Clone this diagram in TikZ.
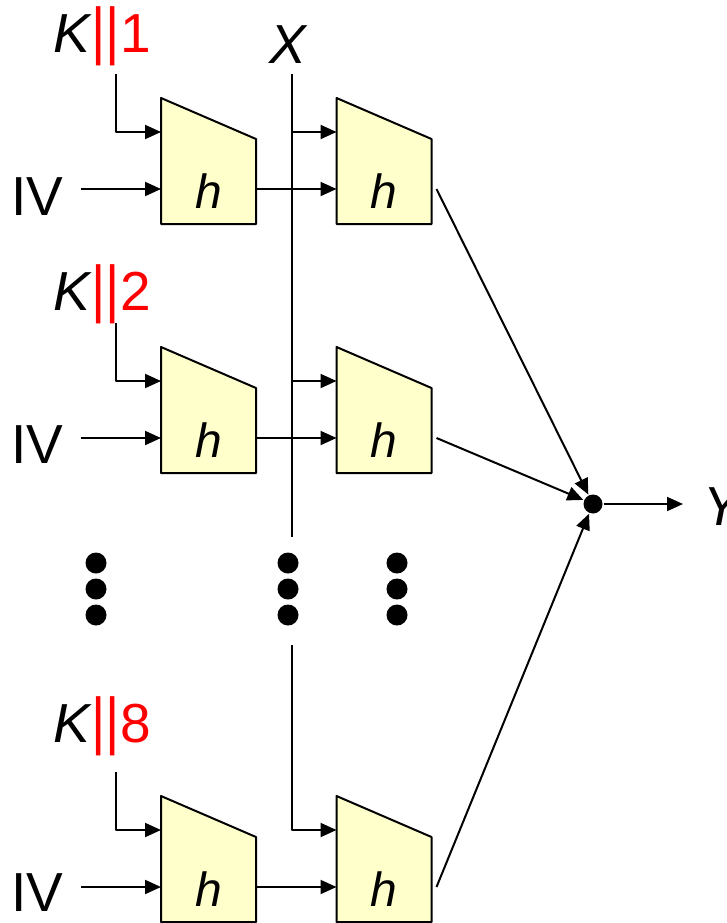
\documentclass[tikz,border=0pt]{standalone}
\usepackage{fontspec}
\setmainfont{Liberation Sans}
\usetikzlibrary{arrows.meta,calc}
\definecolor{hfill}{RGB}{255,255,204}
\begin{document}
\begin{tikzpicture}[x=1pt,y=-1pt,>={Triangle[length=16pt,width=14pt]}, line width=2pt, line join=round,
	hbox/.style={draw=none,inner sep=0pt,minimum width=93pt,minimum height=124pt},
	hlab/.style={font=\fontsize{48}{50}\selectfont\itshape,inner sep=0pt,anchor=base},
	lab/.style={font=\fontsize{55}{60}\selectfont,inner sep=0pt},
	dot/.style={circle,fill,inner sep=0pt,minimum size=#1},
	dot/.default=21pt]
	\useasboundingbox (0,0) rectangle (726,923);
	% rows: number, offset, key index, key baseline, key line start
	\foreach \r/\dy/\n/\kb/\ks in {1/0/1/53/74, 2/249/2/310/323, 3/698/8/742/772} {
		\node[hbox] (A\r) at (208.5,161+\dy) {};
		\node[hbox] (B\r) at (384,161+\dy) {};
		\foreach \bx in {A\r,B\r} {
			\filldraw[fill=hfill] (\bx.north west) -- ([yshift=-41pt]\bx.north east) -- (\bx.south east) -- (\bx.south west) -- cycle;
			\node[hlab] (\bx-h) at ([yshift=-47pt]\bx.center) {h};
			\coordinate (\bx-k) at ([yshift=29pt]\bx.west);
			\coordinate (\bx-i) at ([yshift=-28pt]\bx.west);
		}
		\node[lab,anchor=base west] (K\r) at (52,\kb) {\textit{K}\textcolor{red}{\scalebox{1}[1.15]{||}\n}};
		\coordinate (k\r) at (116,\ks);
		\draw[->] (k\r) |- (A\r-k);
		\node[lab,anchor=base west] (IV\r) at (10,216+\dy-\r) {IV};
		\draw[->] ([xshift=17pt]IV\r.east |- A\r-i) -- (A\r-i);
		\draw[->] (A\r.east |- A\r-i) -- (B\r-i);
		\coordinate (o\r) at ([xshift=5pt]B\r.east |- B\r-i);
	}
	% message line
	\node[lab,anchor=base] (X) at (289,64) {\textit{X}};
	\coordinate (xtop) at (292,74);
	\coordinate (xbot) at (292,537);
	\coordinate (x3) at (292,645);
	\draw (xtop) -- (xbot);
	\draw[->] (xtop |- B1-k) -- (B1-k);
	\draw[->] (xtop |- B2-k) -- (B2-k);
	\draw[->] (x3) |- (B3-k);
	% xor of outputs
	\node[dot=19pt] (j) at (593,504) {};
	\foreach \r in {1,2,3}
		\draw[->] (o\r) -- (j);
	\coordinate (yend) at (683,504);
	\draw[->] (j) -- (yend);
	\node[lab,anchor=base west] (Y) at (702,525) {\textit{Y}};
	\foreach \x in {96,288,397}
		\foreach \y in {563,589,615}
			\node[dot] (d\x-\y) at (\x,\y) {};
\end{tikzpicture}
\end{document}
